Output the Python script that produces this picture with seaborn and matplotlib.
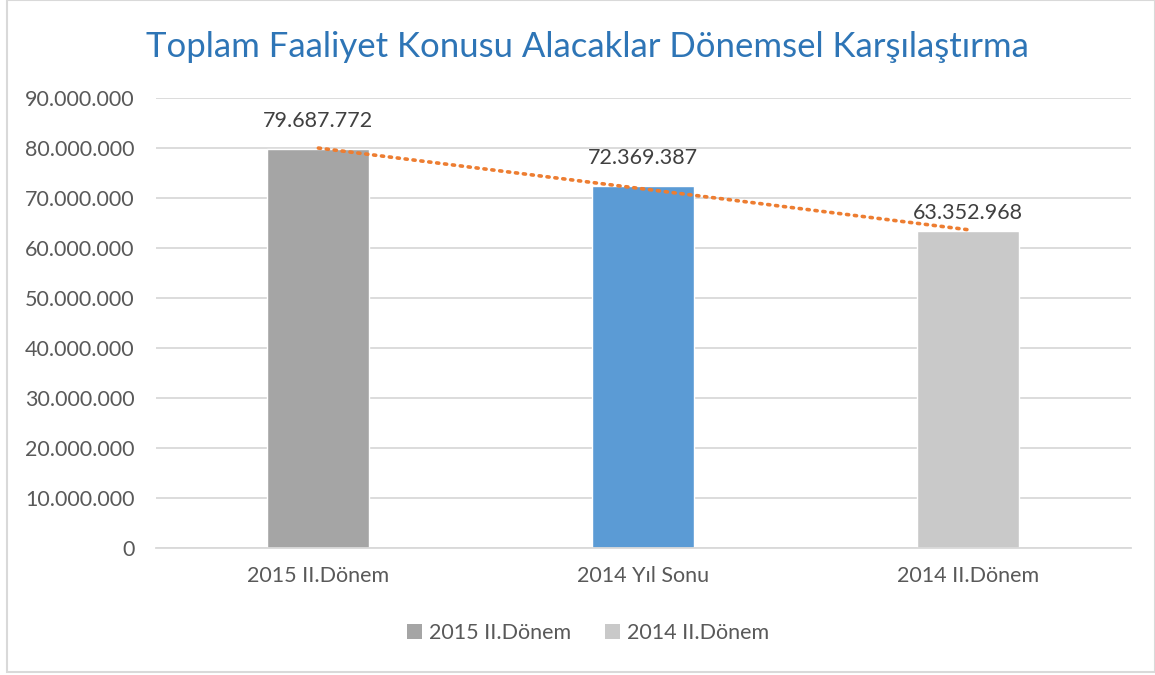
import numpy as np
import pandas as pd
import matplotlib
matplotlib.use("Agg")
import matplotlib.pyplot as plt
from matplotlib.patches import Patch
import seaborn as sns

categories = ["2015 II.Dönem", "2014 Yıl Sonu", "2014 II.Dönem"]
values = [79687772, 72369387, 63352968]
bar_colors = ["#A5A5A5", "#5B9BD5", "#C9C9C9"]
legend_labels = ["2015 II.Dönem", "2014 II.Dönem"]
legend_colors = ["#A5A5A5", "#C9C9C9"]
yticks = list(range(0, 90000001, 10000000))

TITLE = "Toplam Faaliyet Konusu Alacaklar Dönemsel Karşılaştırma"
TEXT = "#595959"


def tr_fmt(v):
    return f"{v:,.0f}".replace(",", ".")


sns.set_theme(style="white")
plt.rcParams["font.family"] = ["Lato", "DejaVu Sans"]

df = pd.DataFrame({"donem": categories, "tutar": values})

fig = plt.figure(figsize=(11.55, 6.75), dpi=100)
ax = fig.add_axes([0.135, 0.188, 0.844, 0.667])

sns.barplot(
    data=df, x="donem", y="tutar", hue="donem",
    palette=dict(zip(categories, bar_colors)),
    width=0.314, legend=False, ax=ax, saturation=1,
)

# linear trend line (dotted orange)
xs = np.arange(len(values))
slope, intercept = np.polyfit(xs, values, 1)
ax.plot(xs, slope * xs + intercept, color="#ED7D31", lw=2.6,
        linestyle=(0, (0.6, 1.6)), dash_capstyle="round", zorder=4)

label_offsets = [13, 13, 6]
for i, v in enumerate(values):
    ax.annotate(tr_fmt(v), (i, v), xytext=(0, label_offsets[i]), textcoords="offset points",
                ha="center", va="bottom", fontsize=15.5, color="#404040")

ax.set_ylim(0, 90000000)
ax.set_xlim(-0.5, 2.5)
ax.set_yticks(yticks)
ax.set_yticklabels([tr_fmt(t) for t in yticks], fontsize=15.5, color=TEXT)
ax.tick_params(axis="x", labelsize=15.5, labelcolor=TEXT, pad=13)
ax.tick_params(axis="y", pad=15.5, length=0)
ax.tick_params(axis="x", length=0)
ax.yaxis.grid(True, color="#D9D9D9", lw=1.3)
ax.set_axisbelow(True)
for s in ["top", "right", "left"]:
    ax.spines[s].set_visible(False)
ax.spines["bottom"].set_color("#D9D9D9")
ax.spines["bottom"].set_linewidth(1.3)
ax.set_xlabel("")
ax.set_ylabel("")

fig.text(0.509, 0.93, TITLE, ha="center", va="center", fontsize=25, color="#2E75B6")

handles = [Patch(facecolor=c, edgecolor="none") for c in legend_colors]
fig.legend(handles, legend_labels, loc="center", bbox_to_anchor=(0.509, 0.062),
           ncol=2, frameon=False, fontsize=15.5, labelcolor=TEXT,
           handlelength=0.7, handleheight=0.7, handletextpad=0.3, columnspacing=1.6)

# outer chart border
fig.patches.append(plt.Rectangle((0.006, 0.005), 0.994, 0.995, transform=fig.transFigure,
                                 fill=False, edgecolor="#D9D9D9", lw=1.5))

fig.savefig("out.png", dpi=100)
